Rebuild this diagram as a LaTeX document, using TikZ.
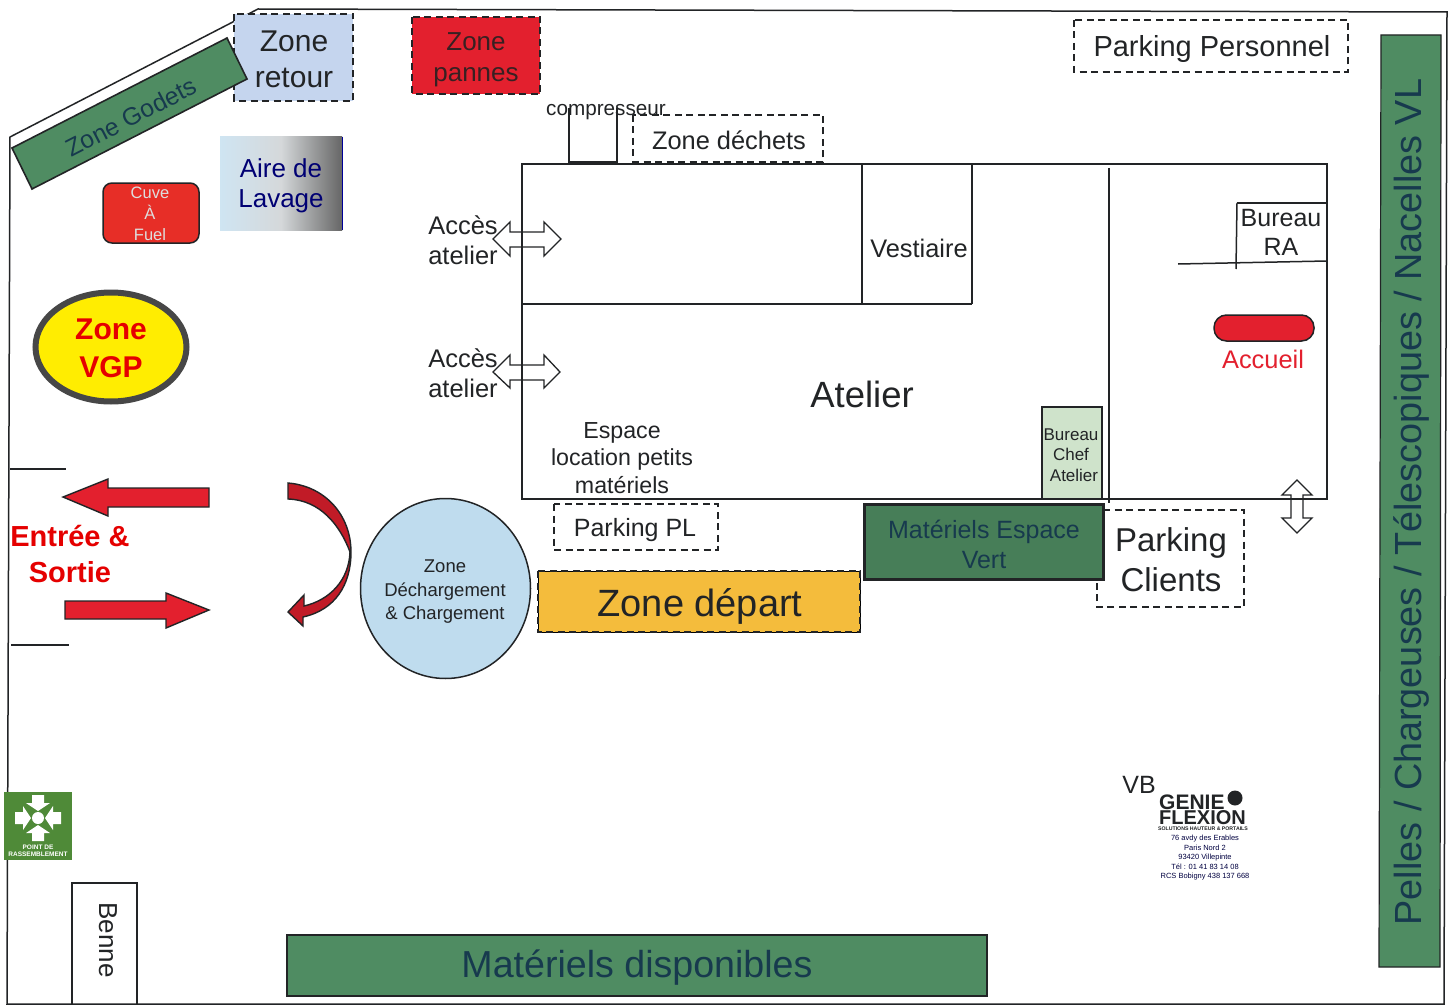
\documentclass[tikz,border=0pt]{standalone}
\usepackage{fontspec}
\setmainfont{Liberation Sans}
\usetikzlibrary{shapes.geometric,shapes.arrows}
\definecolor{zgreen}{HTML}{4F8C62}
\definecolor{zicon}{HTML}{4F8A38}
\definecolor{zred}{HTML}{E3202E}
\definecolor{zblue}{HTML}{C5D5EE}
\definecolor{zcirc}{HTML}{BFDCEE}
\definecolor{zorange}{HTML}{F4BC3C}
\definecolor{zpale}{HTML}{CFE3CB}
\definecolor{ztxt}{HTML}{222426}
\definecolor{zgtxt}{HTML}{173A4E}
\newcommand\fs[1]{\fontsize{#1}{#1}\selectfont}
\tikzset{
 wall/.style={draw=ztxt,line width=1.5pt},
 zone/.style={draw=ztxt,line width=1.6pt,dash pattern=on 7pt off 4.5pt},
 lbl/.style={text=ztxt,align=center,inner sep=0pt},
 glbl/.style={text=zgtxt,align=center,inner sep=0pt},
 redarrow/.style={fill=zred,draw=ztxt,line width=1.4pt,line join=miter},
 dblarrow/.style={fill=none,draw=ztxt,line width=1.3pt,line join=miter},
 greenbox/.style={fill=zgreen,draw=ztxt,line width=1.2pt},
}
\begin{document}
\begin{tikzpicture}[x=1pt,y=-1pt]
\useasboundingbox (0,0) rectangle (1454,1006);
\fill[white] (0,0) rectangle (1454,1006);
% outer boundary
\coordinate (o1) at (10,137); \coordinate (o2) at (258,9); \coordinate (o3) at (1447,12);
\coordinate (o4) at (1444,1004); \coordinate (o5) at (7,1004);
\draw[wall] (o1)--(o2)--(o3)--(o4)--(o5)--cycle;
% top-left group
\path[fill=zblue] (234,14) rectangle (353,101);
\draw[zone] (234,14) rectangle (353,101);
\node[lbl,font=\fs{30}] (zr) at (294,59) {Zone\\[6pt]retour};
\draw[greenbox,line width=1.6pt,fill=zgreen] (227,38)--(247,79)--(32,189)--(12,148)--cycle;
\node[glbl,font=\fs{24.8},rotate=27.2] (zg) at (131,117) {Zone Godets};
\path[fill=zred] (412,17) rectangle (540,94);
\draw[zone] (412,17) rectangle (540,94);
\node[text=ztxt!90!red,align=center,inner sep=0pt,font=\fs{26}] (zp) at (476,60) {Zone\\[5pt]pannes};
\path[left color=zcirc!75!white,right color=black!60,middle color=zcirc!45!black!25] (220,137) rectangle (342,230);
\draw[blue!60!black,line width=.8pt] (342,137)--(342,230);
\node[text=blue!45!black,align=center,inner sep=0pt,font=\fs{26}] (al) at (281,186) {Aire de\\[4pt]Lavage};
\draw[fill=zred!85!orange,draw=ztxt,line width=1.5pt,rounded corners=9pt] (103,183) rectangle (199,243);
\node[text=white!85!ztxt,align=center,inner sep=0pt,font=\fs{16.5}] (cu) at (150,214) {Cuve\\[4.5pt]À\\[4.5pt]Fuel};
\node[ellipse,draw=black!72,fill=yellow!95!orange,line width=6pt,minimum width=151pt,minimum height=109pt,inner sep=0pt] (vgp) at (111,347) {};
\node[text=red!90!black,align=center,inner sep=0pt,font=\fs{30}\bfseries] (vgpt) at (111,348) {Zone\\[8pt]VGP};
% parking personnel etc
\draw[zone,line width=1.3pt] (1074,20) rectangle (1348,72);
\node[lbl,font=\fs{29}] (pp) at (1212,49) {Parking Personnel};
\draw[zone,line width=1.3pt] (633,115) rectangle (823,162);
\node[lbl,font=\fs{25.4}] (zd) at (729,140) {Zone déchets};
\draw[wall] (569,108)--(569,162)--(617,162)--(617,108);
\node[lbl,font=\fs{20.7}] (co) at (606,112) {compresseur};
% atelier
\draw[wall] (522,164) rectangle (1327,499);
\draw[wall] (862,164)--(862,304);
\draw[wall] (972,164)--(972,304);
\draw[wall] (522,304)--(972,304);
\draw[wall] (1109,168)--(1109,503);
\draw[wall] (1237,203)--(1327,203);
\draw[wall] (1237,203)--(1236,269);
\draw[wall] (1178,264)--(1327,261);
\node[lbl,font=\fs{25.4}] (ve) at (919,248) {Vestiaire};
\node[lbl,font=\fs{25}] (ra) at (1281,232) {Bureau\\[4pt]RA};
\draw[fill=zred,draw=ztxt,line width=1.5pt,rounded corners=12.5pt] (1214,315) rectangle (1314,341);
\node[text=zred,inner sep=0pt,font=\fs{25.4}] (ac) at (1263,359) {Accueil};
\node[lbl,font=\fs{36.5}] (at) at (862,394) {Atelier};
\node[lbl,font=\fs{23.2}] (el) at (622,458) {Espace\\[4pt]location petits\\[4pt]matériels};
\node[lbl,font=\fs{25.5}] (a1) at (463,240) {Accès\\[5pt]atelier};
\node[lbl,font=\fs{25.5}] (a2) at (463,373) {Accès\\[5pt]atelier};
\draw[dblarrow] (493,239)--(510,222)--(510,232)--(544,232)--(544,222)--(561,239)--(544,256)--(544,247)--(510,247)--(510,256)--cycle;
\draw[dblarrow] (493,372)--(510,355)--(510,365)--(544,365)--(544,355)--(560,372)--(544,388)--(544,380)--(510,380)--(510,388)--cycle;
\draw[dblarrow] (1297,480)--(1312,495)--(1303,495)--(1303,518)--(1312,518)--(1297,533)--(1282,518)--(1291,518)--(1291,495)--(1282,495)--cycle;
\draw[fill=zpale,draw=ztxt,line width=1.2pt] (1042,407) rectangle (1102,499);
\node[lbl,font=\fs{17}] (bc) at (1071,455) {Bureau\\[3.5pt]Chef\\[3.5pt]\hspace*{6pt}Atelier};
\draw[fill=zgreen!90!black,draw=ztxt,line width=3pt] (864,504) rectangle (1103,579);
\node[glbl,font=\fs{25}] (me) at (984,544) {Matériels Espace\\[5pt]Vert};
\draw[zone,line width=1.3pt] (1103,510)--(1244,510)--(1244,607)--(1097,607)--(1097,580);
\node[lbl,font=\fs{33}] (pc) at (1171,560) {Parking\\[7pt]Clients};
\draw[zone,line width=1.3pt] (554,504) rectangle (718,550);
\node[lbl,font=\fs{25}] (pl) at (635,530) {Parking PL};
\draw[fill=zorange] (538,571) rectangle (860,632);
\draw[zone] (538,571) rectangle (860,632);
\node[lbl,font=\fs{38}] (zdep) at (700,606) {Zone départ};
\node[ellipse,draw=ztxt,fill=zcirc,line width=1.5pt,minimum width=170pt,minimum height=180pt,inner sep=0pt] (zc) at (445.5,588.5) {};
\node[lbl,font=\fs{18.5}] (zct) at (445,592) {Zone\\[5pt]Déchargement\\[5pt]\& Chargement};
% entrance
\draw[wall] (10,469)--(66,469);
\draw[wall] (11,645)--(69,645);
\draw[redarrow] (63,497)--(108,479)--(108,488)--(209,488)--(209,507)--(108,507)--(108,516)--cycle;
\draw[redarrow] (209,610)--(166,593)--(166,601)--(65,601)--(65,619)--(166,619)--(166,628)--cycle;
\node[text=red!90!black,align=center,inner sep=0pt,font=\fs{29}\bfseries] (es) at (70,554) {Entrée \&\\[7pt]Sortie};
\draw[fill=zred!85!black,draw=ztxt,line width=1.4pt,line join=miter]
  (288,483) .. controls (325,486) and (351,515) .. (351,552)
  .. controls (351,585) and (335,610) .. (303,617)
  -- (303,626) -- (288,612) -- (304,595) -- (304,606)
  .. controls (330,600) and (349,580) .. (350,552)
  .. controls (340,525) and (320,500) .. (288,499) -- cycle;
% bottom
\draw[wall] (72,1004)--(72,883)--(137,883)--(137,1004);
\node[lbl,font=\fs{26},rotate=-90] (be) at (108,940) {Benne};
\path[fill=zicon] (4,792) rectangle (72,860);
\foreach \a in {0,90,180,270}{
  \fill[white,rotate around={\a:(38,818)}] (32,803)--(32,795)--(44,795)--(44,803)--(50,803)--(38,811)--(26,803)--cycle;
}
\fill[white] (38,818) circle (6);
\node[text=white,inner sep=0pt,font=\fs{6.5}\bfseries,align=center] (ps) at (38,851) {POINT DE\\[1pt]RASSEMBLEMENT};
\draw[greenbox] (287,935) rectangle (987,996);
\node[glbl,font=\fs{37.6}] (md) at (637,968) {Matériels disponibles};
\draw[fill=zgreen,draw=ztxt,line width=1.2pt] (1381,35)--(1441,35)--(1440,967)--(1379,967)--cycle;
\node[glbl,font=\fs{37.8},rotate=90] (pe) at (1411,502) {Pelles / Chargeuses / Télescopiques / Nacelles VL};
% logo
\node[lbl,font=\fs{25}] (vb) at (1139,785) {VB};
\node[lbl,anchor=west,font=\fs{21}\bfseries] (lg1) at (1159,802) {GENIE};
\node[lbl,anchor=west,font=\fs{20}\bfseries] (lg2) at (1159,818) {FLEXION};
\fill[ztxt] (1235,798) circle (7.5);
\node[text=ztxt,inner sep=0pt,font=\fs{5.2}\bfseries] (lg3) at (1203,829) {SOLUTIONS HAUTEUR \& PORTAILS};
\node[text=black!75!blue,inner sep=0pt,align=center,font=\fs{7.5}] (lg4) at (1205,858) {76 avdy des Erables\\[2pt]Paris Nord 2\\[2pt]93420 Villepinte\\[2pt]Tél : 01 41 83 14 08\\[2pt]RCS Bobigny 438 137 668};
\end{tikzpicture}
\end{document}
